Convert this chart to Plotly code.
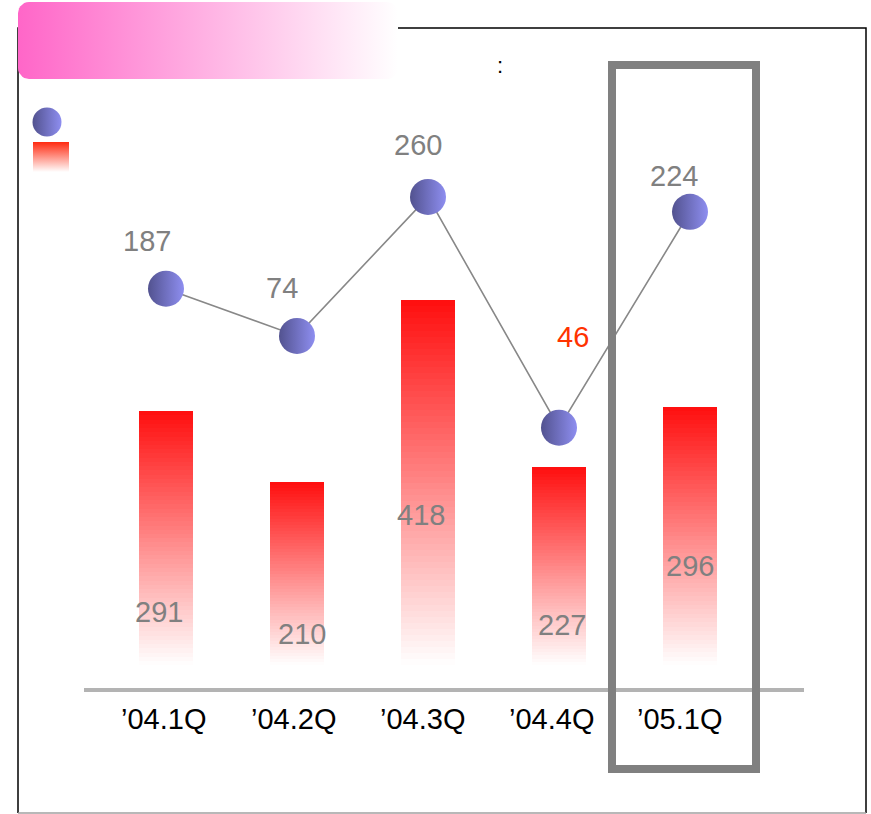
import plotly.graph_objects as go
import numpy as np

# ---- data ----
categories = ["’04.1Q", "’04.2Q", "’04.3Q", "’04.4Q", "’05.1Q"]
bar_values = [291, 210, 418, 227, 296]
line_labels = [187, 74, 260, 46, 224]
# plotted level of the line points in bar-axis units
line_levels = [431, 377, 536, 272, 519]

# ---- style / placement (pixels) ----
FONT = "Liberation Sans, Arial, sans-serif"
W, H = 871, 814
bar_label_dx = [-7, 5, -7, 3, 0]
bar_label_dy = [53, 31, 150, 40, 99]
line_label_dx = [-19, -15, -10, 14, -16]
line_label_dy = [48, 48, 52, 91, 36]
line_label_colors = ["#808080", "#808080", "#808080", "#ff3300", "#808080"]
tick_dx = [-3, -4, -6, -8, -11]
tick_y_px = 719

x = list(range(len(categories)))
fig = go.Figure()

# gradient bars: stacked slices, red at top fading to white at bottom
N = 60
red = np.array([255, 14, 14])
white = np.array([255, 255, 255])
for k in range(N):
    f = (k + 0.5) / N  # 0 bottom -> 1 top
    c = white * (1 - f) + red * f
    col = "rgb(%d,%d,%d)" % tuple(int(round(v)) for v in c)
    fig.add_trace(go.Bar(
        x=x, y=[v / N for v in bar_values], width=0.41,
        marker=dict(color=col, line=dict(width=0)),
        showlegend=False, hoverinfo="skip"))

SPHERE_DARK = "#52528f"
SPHERE_LIGHT = "#8e8ef0"

# line with sphere markers
fig.add_trace(go.Scatter(
    x=x, y=line_levels, mode="lines+markers",
    line=dict(color="#888888", width=1.6),
    marker=dict(size=36, color=SPHERE_DARK,
                gradient=dict(type="horizontal", color=SPHERE_LIGHT),
                line=dict(width=0)),
    showlegend=False, hoverinfo="skip"))

annotations = []
for i, v in enumerate(bar_values):
    annotations.append(dict(x=i, y=0, xref="x", yref="y", text=str(v),
                            showarrow=False, xshift=bar_label_dx[i], yshift=bar_label_dy[i],
                            font=dict(family=FONT, size=29, color="#808080"),
                            xanchor="center", yanchor="middle"))
for i, v in enumerate(line_labels):
    annotations.append(dict(x=i, y=line_levels[i], xref="x", yref="y", text=str(v),
                            showarrow=False, xshift=line_label_dx[i], yshift=line_label_dy[i],
                            font=dict(family=FONT, size=29, color=line_label_colors[i]),
                            xanchor="center", yanchor="middle"))
# category labels under the axis line
for i, c in enumerate(categories):
    annotations.append(dict(x=i, y=1 - tick_y_px / H, xref="x", yref="paper", text=c,
                            showarrow=False, xshift=tick_dx[i],
                            font=dict(family=FONT, size=29, color="black"),
                            xanchor="center", yanchor="middle"))
annotations.append(dict(x=500, y=65, xref="x2", yref="y2", text=":", showarrow=False,
                        font=dict(family=FONT, size=22, color="black"),
                        xanchor="center", yanchor="middle"))

# pink gradient header box (rounded), drawn in pixel overlay axes
def rounded_rect(x0, y0, x1, y1, r, n=8):
    pts = []
    corners = [(x1 - r, y0 + r, -90, 0), (x1 - r, y1 - r, 0, 90),
               (x0 + r, y1 - r, 90, 180), (x0 + r, y0 + r, 180, 270)]
    for cx, cy, a0, a1 in corners:
        for a in np.linspace(np.radians(a0), np.radians(a1), n):
            pts.append((cx + r * np.cos(a), cy + r * np.sin(a)))
    pts.append(pts[0])
    return [p[0] for p in pts], [p[1] for p in pts]

hx, hy = rounded_rect(18, 2, 398, 79, 11)
fig.add_trace(go.Scatter(x=hx, y=hy, xaxis="x2", yaxis="y2", mode="lines",
                         line=dict(width=0), fill="toself",
                         fillgradient=dict(type="horizontal", start=18, stop=398,
                                           colorscale=[[0, "#ff66c8"], [1, "#ffffff"]]),
                         showlegend=False, hoverinfo="skip"))
# legend icons
lx, ly = [33, 69, 69, 33, 33], [142, 142, 172, 172, 142]
fig.add_trace(go.Scatter(x=lx, y=ly, xaxis="x2", yaxis="y2", mode="lines",
                         line=dict(width=0), fill="toself",
                         fillgradient=dict(type="vertical", start=142, stop=172,
                                           colorscale=[[0, "#ff2a10"], [1, "#ffffff"]]),
                         showlegend=False, hoverinfo="skip"))
fig.add_trace(go.Scatter(x=[47], y=[122], xaxis="x2", yaxis="y2", mode="markers",
                         marker=dict(size=29, color=SPHERE_DARK,
                                     gradient=dict(type="horizontal", color=SPHERE_LIGHT),
                                     line=dict(width=0)),
                         showlegend=False, hoverinfo="skip"))

shapes = [
    dict(type="path", xref="x2", yref="y2", path="M18,813 L18,28 L866,28 L866,813",
         line=dict(color="black", width=1.5), layer="below"),
    dict(type="line", xref="x2", yref="y2", x0=18, x1=866, y0=813, y1=813,
         line=dict(color="#a0a0a0", width=1.5), layer="below"),
    dict(type="rect", xref="x2", yref="y2", x0=612, x1=756, y0=65, y1=769,
         line=dict(color="#808080", width=8)),
]

# main axes geometry: categories at pixel 166 + 131*i, bar zero at pixel 665.4, 0.874 px/unit
px_per_cat = 131.0
cat0 = 166.0
xl, xr = 84, 804
ybot = 688
zero_px = 665.4
ppu = 0.874

fig.update_layout(
    width=W, height=H,
    margin=dict(l=0, r=0, t=0, b=0),
    paper_bgcolor="white", plot_bgcolor="rgba(0,0,0,0)",
    barmode="stack", bargap=0,
    showlegend=False,
    xaxis=dict(domain=[xl / W, xr / W],
               range=[(xl - cat0) / px_per_cat, (xr - cat0) / px_per_cat],
               tickmode="array", tickvals=x, ticktext=[""] * len(x),
               showline=True, linecolor="#b3b3b3", linewidth=4,
               showgrid=False, zeroline=False, ticks="",
               fixedrange=True),
    yaxis=dict(domain=[(H - ybot) / H, 1],
               range=[-(ybot - zero_px) / ppu, zero_px / ppu],
               visible=False, fixedrange=True),
    xaxis2=dict(domain=[0, 1], range=[0, W], anchor="y2", visible=False, fixedrange=True),
    yaxis2=dict(domain=[0, 1], range=[H, 0], anchor="x2", visible=False, fixedrange=True),
    annotations=annotations,
    shapes=shapes,
)

fig.write_html("out.html", config={"displayModeBar": False},
               post_script="document.body.style.margin='0';document.body.style.overflow='hidden';")
